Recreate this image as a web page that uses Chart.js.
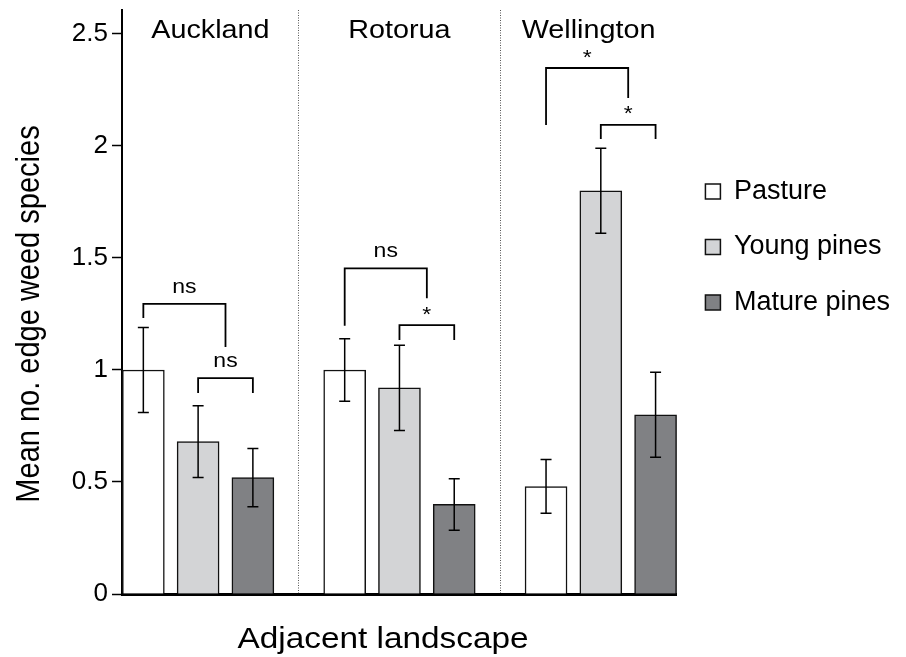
<!DOCTYPE html>
<html>
<head>
<meta charset="utf-8">
<script src="https://cdn.jsdelivr.net/npm/chart.js@4"></script>
<style>
html, body { margin: 0; padding: 0; background: #fff; }
#wrap { width: 906px; height: 657px; }
</style>
</head>
<body>
<div id="wrap"><canvas id="weedChart"></canvas></div>
<script>
// data
const regions = ["Auckland", "Rotorua", "Wellington"];
const seriesNames = ["Pasture", "Young pines", "Mature pines"];
const pasture = [1.0, 1.0, 0.48];
const youngPines = [0.68, 0.92, 1.80];
const maturePines = [0.52, 0.40, 0.80];
const pastureErr = [0.19, 0.14, 0.12];
const youngErr = [0.16, 0.19, 0.19];
const matureErr = [0.13, 0.115, 0.19];
const yTicks = [0, 0.5, 1, 1.5, 2, 2.5];

// significance brackets (series index 1.5 = middle of the young/mature bracket)
const bracketGroup = [0, 0, 1, 1, 2, 2];
const bracketFrom = [0, 1, 0, 1, 0, 1];
const bracketTo = [1.5, 2, 1.5, 2, 1.5, 2];
const bracketTop = [1.295, 0.964, 1.454, 1.2, 2.348, 2.094];
const bracketLeftEnd = [1.232, 0.897, 1.198, 1.134, 2.094, 2.031];
const bracketRightEnd = [1.103, 0.897, 1.32, 1.134, 2.214, 2.031];
const bracketLabel = ["ns", "ns", "ns", "*", "*", "*"];

const FONT = "'Liberation Sans', Arial, Helvetica, sans-serif";
const barStep = 0.272;
const dividers = [0.5, 1.5];

function barX(group, series) {
  return group + (series - 1) * barStep;
}

// the original figure is a little wider than tall, so text is stretched sideways
function stretchedText(ctx, text, x, y, size, rotated) {
  ctx.save();
  ctx.translate(x, y);
  ctx.scale(1.15, 1);
  if (rotated) ctx.rotate(-Math.PI / 2);
  ctx.font = size + "px " + FONT;
  ctx.textAlign = "center";
  ctx.fillText(text, 0, 0);
  ctx.restore();
}

const annotations = {
  id: "annotations",
  afterDraw(chart) {
    const { ctx, scales: { x, y } } = chart;
    ctx.save();
    ctx.strokeStyle = "#000";
    ctx.fillStyle = "#000";

    // error bars
    ctx.lineWidth = 1.5;
    chart.data.datasets.forEach((ds, i) => {
      chart.getDatasetMeta(i).data.forEach((bar, j) => {
        const v = ds.data[j].y;
        const e = ds.errors[j];
        const top = y.getPixelForValue(v + e);
        const bot = y.getPixelForValue(v - e);
        ctx.beginPath();
        ctx.moveTo(bar.x, top); ctx.lineTo(bar.x, bot);
        ctx.moveTo(bar.x - 5.5, top); ctx.lineTo(bar.x + 5.5, top);
        ctx.moveTo(bar.x - 5.5, bot); ctx.lineTo(bar.x + 5.5, bot);
        ctx.stroke();
      });
    });

    // brackets
    ctx.lineWidth = 1.8;
    ctx.textBaseline = "alphabetic";
    for (let k = 0; k < bracketLabel.length; k++) {
      const x1 = x.getPixelForValue(barX(bracketGroup[k], bracketFrom[k]));
      const x2 = x.getPixelForValue(barX(bracketGroup[k], bracketTo[k]));
      const yt = y.getPixelForValue(bracketTop[k]);
      ctx.beginPath();
      ctx.moveTo(x1, y.getPixelForValue(bracketLeftEnd[k]));
      ctx.lineTo(x1, yt);
      ctx.lineTo(x2, yt);
      ctx.lineTo(x2, y.getPixelForValue(bracketRightEnd[k]));
      ctx.stroke();
      const lift = bracketLabel[k] === "*" ? 4.5 : 11;
      stretchedText(ctx, bracketLabel[k], (x1 + x2) / 2, yt - lift, 20);
    }

    // region names, centred between the dividers
    const edges = [x.min].concat(dividers, [x.max]);
    regions.forEach((name, g) => {
      const cx = (x.getPixelForValue(edges[g]) + x.getPixelForValue(edges[g + 1])) / 2;
      stretchedText(ctx, name, cx, 38, 25);
    });

    // axis titles
    stretchedText(ctx, "Adjacent landscape", 383, 648, 29);
    ctx.textBaseline = "middle";
    stretchedText(ctx, "Mean no. edge weed species", 30, 314, 29, true);
    ctx.restore();
  }
};

function makeSet(label, values, errors, fill) {
  return {
    label: label,
    data: values.map((v, g) => ({ x: barX(g, seriesNames.indexOf(label)), y: v })),
    errors: errors,
    backgroundColor: fill,
    borderColor: "#111",
    borderWidth: 1.5,
    barThickness: 42,
    grouped: false
  };
}

Chart.defaults.font.family = FONT;
Chart.defaults.color = "#000";

new Chart(document.getElementById("weedChart"), {
  type: "bar",
  data: {
    datasets: [
      makeSet(seriesNames[0], pasture, pastureErr, "#ffffff"),
      makeSet(seriesNames[1], youngPines, youngErr, "#d3d4d6"),
      makeSet(seriesNames[2], maturePines, matureErr, "#808184")
    ]
  },
  options: {
    responsive: true,
    maintainAspectRatio: false,
    animation: false,
    events: [],
    layout: { padding: { top: 10, right: 6 } },
    plugins: {
      tooltip: { enabled: false },
      legend: {
        position: "right",
        align: "start",
        title: { display: true, text: "", font: { size: 12 }, padding: { top: 125, bottom: 0 } },
        labels: {
          boxWidth: 15,
          boxHeight: 15,
          padding: 28.5,
          color: "#000",
          font: { size: 27 }
        }
      }
    },
    scales: {
      x: {
        type: "linear",
        min: -0.378,
        max: 2.378,
        offset: false,
        z: 1,
        afterBuildTicks: s => { s.ticks = dividers.map(v => ({ value: v })); },
        afterFit: s => { s.height = 63; s.paddingLeft = 0; s.paddingRight = 0; },
        ticks: { display: false },
        grid: { offset: false, drawTicks: false, color: "#555", lineWidth: 1 },
        border: { color: "#000", width: 3, dash: [1, 1.5] }
      },
      y: {
        min: 0,
        max: 2.607,
        afterBuildTicks: s => { s.ticks = yTicks.map(v => ({ value: v })); },
        afterFit: s => { s.width = 122; s.paddingTop = 0; s.paddingBottom = 0; },
        ticks: { color: "#000", padding: 4, font: { size: 26 }, callback: v => String(v) },
        grid: { drawOnChartArea: false, color: "#000", tickLength: 10, tickWidth: 1.5 },
        border: { color: "#000", width: 2 }
      }
    }
  },
  plugins: [annotations]
});
</script>
</body>
</html>
